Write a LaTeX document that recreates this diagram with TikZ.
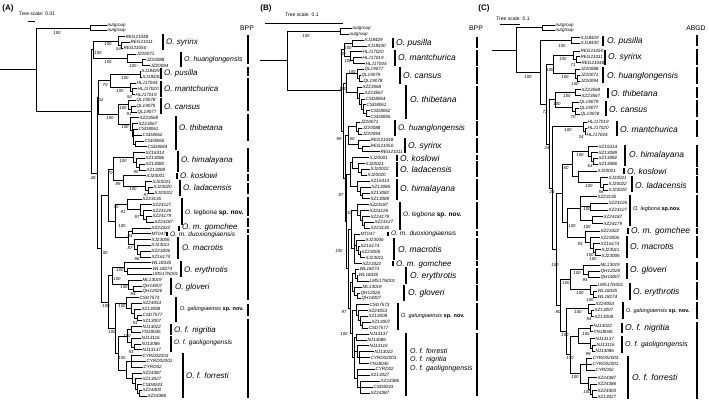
\documentclass[tikz,border=0pt]{standalone}
\usepackage{fontspec}
\setmainfont{Liberation Sans}
\newcommand\tipf{\fontsize{4.6}{5}\selectfont\itshape}
\newcommand\svf{\fontsize{4.3}{5}\selectfont\itshape}
\newcommand\spf{\fontsize{8}{9}\selectfont\itshape}
\newcommand\spbf{\fontsize{8.5}{9}\selectfont\itshape}
\newcommand\sphf{\fontsize{7}{8}\selectfont\itshape}
\newcommand\spmf{\fontsize{6.5}{7}\selectfont\itshape}
\newcommand\spsf{\fontsize{5.5}{6}\selectfont\itshape}
\newcommand\sn{{\upshape\bfseries sp. nov.}}
\newcount\svc
\newcommand\nd[4]{\draw[br] (#1,{(#3+#4)/2}) -- (#2,{(#3+#4)/2}) (#2,#3) -- (#2,#4);}
\newcommand\tp[5]{\draw[br] (#2,#4) -- (#3,#4); \node[tl] (#1) at (#3,#4) {#5};}
\newcommand\sv[3]{\global\advance\svc by 1 \node[sv] (v\the\svc) at (#1,#2) {#3};}
\newcommand\spc[8][]{\draw[spb] (#3,#4) -- (#3,#5); \node[spl,#1] (#2) at (#6,#7) {#8};}
\newcommand\seg[3]{\draw[col] (#1,#2) -- (#1,#3);}
\tikzset{
  br/.style={line width=0.8pt, line cap=rect},
  tl/.style={anchor=west, inner sep=0.4pt, font=\tipf},
  sv/.style={inner sep=0pt, font=\svf},
  spb/.style={line width=1.3pt},
  spl/.style={anchor=west, inner sep=0pt, font=\spf},
  col/.style={line width=1.3pt},
  pl/.style={inner sep=0pt, font=\fontsize{8}{9}\selectfont\bfseries},
  ts/.style={inner sep=0pt, font=\fontsize{5}{6}\selectfont},
  hd/.style={inner sep=0pt, font=\fontsize{6.8}{8}\selectfont},
  sb/.style={line width=0.9pt}
}
\begin{document}
\begin{tikzpicture}[x=1pt,y=-1pt]
\useasboundingbox (0,0) rectangle (709,402);
% ================= PANEL A =================
\node[pl] (pA) at (8,8) {(A)};
\node[ts] (tsA) at (37,14) {Tree scale: 0.01};
\draw[sb] (28,21) -- (35,21);
\node[hd] (hA) at (247,28) {BPP};
\nd{0}{36}{27.9}{111.4}
\nd{36}{90}{25}{30.8}
\tp{a1}{90}{107}{25}{outgroup}
\tp{a2}{90}{107}{30.8}{outgroup}
\sv{57}{33}{100}
\nd{36}{91}{49.65}{173.1}
\nd{91}{93}{40.95}{58.35}
\sv{98}{53.5}{100}
\nd{93}{118}{36.6}{45.3}
\sv{108}{44.5}{100}
\tp{a3}{118}{125}{36.6}{REG21048}
\nd{118}{121}{42.4}{48.2}
\sv{118.5}{49.5}{54}
\tp{a4}{121}{130}{42.4}{REG21011}
\tp{a5}{121}{123}{48.2}{REG21050}
\nd{93}{127}{54}{62.7}
\sv{108}{62}{100}
\tp{a6}{127}{136}{54}{JZ20071}
\nd{127}{142}{59.8}{65.6}
\sv{133}{66}{100}
\tp{a7}{142}{146}{59.8}{JZ20088}
\tp{a8}{142}{150}{65.6}{JZ20094}
\nd{91}{97}{97.6}{248.55}
\sv{93}{178}{38}
\nd{97}{98}{80.8}{114.35}
\sv{101}{100.5}{32}
\nd{98}{110}{74.3}{87.35}
\sv{105}{85}{70}
\nd{110}{140}{71.4}{77.2}
\sv{125}{78}{100}
\tp{a9}{140}{141}{71.4}{XJ18429}
\tp{a10}{140}{142}{77.2}{XJ18430}
\nd{110}{130}{83}{91.7}
\sv{120}{91}{100}
\tp{a11}{130}{136}{83}{HLJ17044}
\nd{130}{132}{88.8}{94.6}
\sv{129.5}{97}{92}
\tp{a12}{132}{137}{88.8}{HLJ17020}
\tp{a13}{132}{135}{94.6}{HLJ17019}
\nd{98}{118}{104.75}{123.95}
\sv{110}{118}{100}
\nd{118}{128}{100.4}{109.1}
\sv{123}{108}{100}
\tp{a14}{128}{136}{100.4}{QL19078}
\nd{128}{131}{106.2}{112}
\sv{129}{114}{91}
\tp{a15}{131}{136}{106.2}{QL19079}
\tp{a16}{131}{137}{112}{QL19077}
\nd{118}{130}{117.8}{130.1}
\sv{125}{127}{100}
\tp{a17}{130}{139}{117.8}{XZ23568}
\nd{130}{132}{123.6}{136.65}
\tp{a18}{132}{138}{123.6}{XZ23567}
\nd{132}{133}{129.4}{143.9}
\tp{a19}{133}{138}{129.4}{CSD8061}
\tp{a20}{133}{142}{135.2}{CSD8062}
\nd{133}{135}{141}{146.8}
\tp{a21}{135}{144}{141}{CSD8065}
\tp{a22}{135}{147}{146.8}{CSD8064}
\nd{97}{101}{195.2}{301.9}
\sv{104}{253}{100}
\nd{101}{108}{169.3}{221.1}
\nd{108}{113}{157.7}{180.9}
\sv{110}{173}{70}
\nd{113}{133}{152.6}{162.75}
\sv{123}{161}{100}
\tp{a23}{133}{145}{152.6}{XZ16314}
\nd{133}{136}{158.4}{167.1}
\tp{a24}{136}{145}{158.4}{XZ13086}
\nd{136}{139}{164.2}{170}
\sv{136}{172.5}{90}
\tp{a25}{139}{145}{164.2}{XZ13082}
\tp{a26}{139}{146}{170}{XZ13089}
\nd{113}{123}{175.8}{185.95}
\sv{118}{184}{89}
\tp{a27}{123}{146}{175.8}{XJ20001}
\nd{123}{145}{181.6}{190.3}
\sv{133}{189}{100}
\tp{a28}{145}{152}{181.6}{XJ20021}
\nd{145}{148}{187.4}{193.2}
\sv{146}{195.5}{97}
\tp{a29}{148}{153}{187.4}{XJ20020}
\tp{a30}{148}{154}{193.2}{XJ20022}
\nd{108}{115}{204.45}{237.8}
\sv{116}{207.5}{30}
\nd{115}{127}{199}{209.9}
\sv{123}{212}{91}
\tp{a31}{127}{142}{199}{XZ23135}
\nd{127}{140}{204.8}{214.95}
\sv{137}{217.5}{97}
\tp{a32}{140}{152}{204.8}{XZ24127}
\nd{140}{143}{210.6}{219.3}
\tp{a33}{143}{152}{210.6}{XZ24126}
\nd{143}{146}{216.4}{222.2}
\tp{a34}{146}{152}{216.4}{XZ24179}
\tp{a35}{146}{154}{222.2}{XZ24187}
\nd{115}{128}{230.9}{244.7}
\sv{122}{226}{100}
\nd{128}{132}{228}{233.8}
\sv{130}{236.5}{84}
\tp{a36}{132}{151}{228}{XZ23322}
\tp{a37}{132}{151}{233.8}{MT047}
\nd{128}{134}{239.6}{249.75}
\sv{130}{248}{87}
\tp{a38}{134}{151}{239.6}{XJ23006}
\nd{134}{137}{245.4}{254.1}
\tp{a39}{137}{151}{245.4}{XJ23011}
\nd{137}{140}{251.2}{257}
\sv{137}{259.5}{96}
\tp{a40}{140}{151}{251.2}{XZ23006}
\tp{a41}{140}{151}{257}{XZ16174}
\nd{101}{108}{275.85}{328}
\sv{106}{306}{100}
\nd{108}{112}{267.15}{284.55}
\sv{117}{279}{100}
\nd{112}{124}{262.8}{271.5}
\sv{120}{270}{100}
\tp{a42}{124}{151}{262.8}{WL18335}
\nd{124}{127}{268.6}{274.4}
\tp{a43}{127}{152}{268.6}{WL18274}
\tp{a44}{127}{152}{274.4}{LMS17N001}
\nd{112}{128}{280.2}{288.9}
\sv{124}{287.5}{100}
\tp{a45}{128}{142}{280.2}{ML13019}
\nd{128}{133}{286}{291.8}
\sv{133}{294}{94}
\tp{a46}{133}{142}{286}{QH14007}
\tp{a47}{133}{142}{291.8}{QH12026}
\nd{108}{115}{303.05}{352.95}
\sv{112}{332}{100}
\nd{115}{126}{297.6}{308.5}
\sv{122}{306}{100}
\tp{a48}{126}{139}{297.6}{CSD7573}
\nd{126}{131}{303.4}{313.55}
\tp{a49}{131}{142}{303.4}{XZ24053}
\nd{131}{134}{309.2}{317.9}
\tp{a50}{134}{141}{309.2}{XZ13008}
\nd{134}{137}{315}{320.8}
\sv{135}{323.5}{93}
\tp{a51}{137}{142}{315}{CSD7577}
\tp{a52}{137}{142}{320.8}{XZ13007}
\nd{115}{118}{336}{369.9}
\nd{118}{127}{329.5}{342.55}
\nd{127}{131}{326.6}{332.4}
\sv{127}{336}{100}
\tp{a53}{131}{142}{326.6}{NJ13022}
\tp{a54}{131}{141}{332.4}{YN18045}
\nd{127}{131}{338.2}{346.9}
\tp{a55}{131}{141}{338.2}{NJ13116}
\nd{131}{134}{344}{349.8}
\sv{131}{352.5}{93}
\tp{a56}{134}{141}{344}{NJ13086}
\tp{a57}{134}{142}{349.8}{NJ13137}
\nd{118}{126}{361.4}{378.45}
\sv{122}{358}{100}
\nd{126}{131}{355.6}{367.2}
\tp{a58}{131}{142}{355.6}{CYRD02003}
\tp{a59}{131}{146}{361.4}{CYRD02001}
\tp{a60}{131}{143}{367.2}{CYRD02}
\nd{126}{132}{373}{383.9}
\tp{a61}{132}{142}{373}{XZ24387}
\nd{132}{135}{378.8}{388.95}
\tp{a62}{135}{142}{378.8}{XZ13027}
\nd{135}{137}{384.6}{393.3}
\tp{a63}{137}{142}{384.6}{CSD8243}
\nd{137}{139}{390.4}{396.2}
\tp{a64}{139}{142}{390.4}{XZ24400}
\tp{a65}{139}{147}{396.2}{XZ24386}
% species A
\spc{sAsyr}{163}{34}{50}{166}{42}{O. syrinx}
\spc[font=\sphf]{sAhua}{181}{52}{67}{184}{60}{O. huanglongensis}
\spc{sApus}{161}{68}{79}{164}{73.5}{O. pusilla}
\spc{sAman}{161}{81}{97}{164}{89}{O. mantchurica}
\spc{sAcan}{161}{98}{114}{164}{106.5}{O. cansus}
\spc{sAthi}{176}{116}{150}{179}{128}{O. thibetana}
\spc{sAhim}{178}{150.5}{172}{181}{160}{O. himalayana}
\spc{sAkos}{177}{173}{179}{180}{176}{O. koslowi}
\spc{sAlad}{180}{180}{196}{183}{188}{O. ladacensis}
\spc[font=\spmf]{sAleg}{182}{198}{225}{185}{213}{O. legbona \sn}
\spc{sAgom}{179}{226}{231}{182}{227.5}{O. m. gomchee}
\spc[font=\spmf]{sAduo}{167}{232}{236}{170}{234.5}{O. m. duoxiongiaensis}
\spc{sAmac}{178}{237}{259}{182}{248}{O. macrotis}
\spc{sAery}{181}{261}{277}{184}{270}{O. erythrotis}
\spc{sAglo}{171}{278}{295}{175}{287}{O. gloveri}
\spc[font=\spsf]{sAgal}{176}{297}{322}{180}{309}{O. galungiaensis \sn}
\spc{sAnig}{171}{324}{335}{174}{330}{O. f. nigritia}
\spc[font=\spmf]{sAgao}{171}{336}{352}{174}{343}{O. f. gaoligongensis}
\spc{sAfor}{183}{353}{398}{186}{376}{O. f. forresti}
% BPP column A
\seg{248}{35}{64}\seg{248}{67}{76}\seg{248}{78}{111}\seg{248}{114}{141}
\seg{248}{148}{172}\seg{248}{174}{181}\seg{248}{183}{194}\seg{248}{197}{216}
\seg{248}{218}{227}\seg{248}{229}{233}\seg{248}{235}{300}\seg{248}{304}{316}
\seg{248}{319}{398}
% ================= PANEL B =================
\begin{scope}[spl/.style={anchor=west, inner sep=0pt, font=\spbf}]
\node[pl] (pB) at (266,8) {(B)};
\node[ts] (tsB) at (302,15) {Tree scale: 0.1};
\draw[sb] (265,23) -- (343,23);
\node[hd] (hB) at (476,28) {BPP};
\nd{260}{287}{31.25}{90.3}
\nd{287}{340}{28.3}{34.2}
\sv{306}{36}{100}
\tp{b1}{340}{352}{28.3}{outgroup}
\tp{b2}{340}{349}{34.2}{outgroup}
\nd{287}{341}{49.6}{131}
\nd{341}{344}{43}{56.225}
\sv{343}{54}{89}
\nd{344}{352}{40.1}{45.9}
\sv{348}{48}{100}
\tp{b3}{352}{364}{40.1}{XJ18429}
\tp{b4}{352}{367}{45.9}{XJ18430}
\nd{344}{350}{51.8}{60.65}
\sv{348}{61.5}{100}
\tp{b5}{350}{362}{51.8}{HLJ17020}
\nd{350}{353}{57.7}{63.6}
\tp{b6}{353}{362}{57.7}{HLJ17019}
\tp{b7}{353}{365}{63.6}{HLJ17044}
\nd{341}{343}{83.35}{178.7}
\nd{343}{346}{73.9}{92.8}
\sv{343}{89}{100}
\nd{346}{357}{69.5}{78.25}
\sv{352}{72}{100}
\tp{b8}{357}{364}{69.5}{QL19077}
\nd{357}{359}{75.3}{81.2}
\tp{b9}{359}{361}{75.3}{QL19079}
\tp{b10}{359}{363}{81.2}{QL19078}
\nd{346}{357}{87.1}{98.5}
\tp{b11}{357}{362}{87.1}{XZ23568}
\nd{357}{359}{93}{104.05}
\tp{b12}{359}{364}{93}{XZ23567}
\nd{359}{361}{98.9}{109.15}
\tp{b13}{361}{365}{98.9}{CSD8064}
\nd{361}{363}{104.7}{113.55}
\tp{b14}{363}{366}{104.7}{CSD8061}
\nd{363}{366}{110.6}{116.5}
\tp{b15}{366}{370}{110.6}{CSD8062}
\tp{b16}{366}{370}{116.5}{CSD8065}
\nd{343}{345}{135.6}{221.75}
\nd{345}{348}{126.8}{144.4}
\sv{339}{139}{89}
\sv{351}{139}{100}
\nd{348}{356}{122.4}{131.2}
\tp{b17}{356}{360}{122.4}{JZ20071}
\nd{356}{358}{128.3}{134.1}
\tp{b18}{358}{362}{128.3}{JZ20088}
\tp{b19}{358}{362}{134.1}{JZ20094}
\nd{348}{358}{140}{148.85}
\tp{b20}{358}{370}{140}{REG21048}
\nd{358}{362}{145.9}{151.8}
\tp{b21}{362}{370}{145.9}{REG21050}
\tp{b22}{362}{380}{151.8}{REG21011}
\nd{345}{346}{174.6}{268.9}
\nd{346}{350}{162.85}{186.35}
\sv{341}{195}{87}
\nd{350}{352}{157.7}{167.95}
\tp{b23}{352}{369}{157.7}{XJ20001}
\nd{352}{358}{163.5}{172.35}
\tp{b24}{358}{365}{163.5}{XJ20021}
\nd{358}{361}{169.4}{175.3}
\tp{b25}{361}{370}{169.4}{XJ20022}
\tp{b26}{361}{367}{175.3}{XJ20020}
\nd{350}{357}{181.2}{191.5}
\tp{b27}{357}{370}{181.2}{XZ16314}
\nd{357}{360}{187.1}{195.85}
\tp{b28}{360}{371}{187.1}{XZ13086}
\nd{360}{362}{192.9}{198.8}
\tp{b29}{362}{370}{192.9}{XZ13082}
\tp{b30}{362}{370}{198.8}{XZ13089}
\nd{346}{348}{229.5}{308.25}
\nd{348}{351}{210.2}{248.8}
\sv{339}{251}{100}
\nd{351}{357}{204.7}{215.75}
\sv{350}{213}{52}
\tp{b31}{357}{369}{204.7}{XZ24187}
\nd{357}{360}{210.6}{220.875}
\tp{b32}{360}{369}{210.6}{XZ24126}
\nd{360}{362}{216.5}{225.25}
\tp{b33}{362}{370}{216.5}{XZ24179}
\nd{362}{364}{222.3}{228.2}
\tp{b34}{364}{374}{222.3}{XZ24127}
\tp{b35}{364}{370}{228.2}{XZ23135}
\nd{351}{354}{234.1}{263.5}
\tp{b36}{354}{360}{234.1}{MT047}
\nd{354}{356}{240}{250.275}
\tp{b37}{356}{365}{240}{XJ23006}
\nd{356}{358}{245.9}{254.65}
\tp{b38}{358}{360}{245.9}{XZ16174}
\nd{358}{360}{251.7}{257.6}
\tp{b39}{360}{361}{251.7}{XZ23006}
\tp{b40}{360}{365}{257.6}{XJ23011}
\tp{b41}{354}{362}{263.5}{XZ23322}
\nd{348}{350}{282.6}{333.9}
\nd{350}{352}{273.8}{291.425}
\nd{352}{355}{269.4}{278.2}
\tp{b42}{355}{359}{269.4}{WL18274}
\nd{355}{357}{275.3}{281.1}
\tp{b43}{357}{358}{275.3}{WL18335}
\tp{b44}{357}{369}{281.1}{LMS17N001}
\nd{352}{354}{287}{295.85}
\tp{b45}{354}{362}{287}{ML13019}
\nd{354}{357}{292.9}{298.8}
\tp{b46}{357}{360}{292.9}{QH12026}
\tp{b47}{357}{361}{298.8}{QH14007}
\nd{350}{352}{310.175}{357.575}
\sv{344}{312}{97}
\sv{344}{334}{100}
\nd{352}{356}{304.7}{315.65}
\tp{b48}{356}{369}{304.7}{CSD7573}
\nd{356}{358}{310.5}{320.825}
\tp{b49}{358}{368}{310.5}{XZ24053}
\nd{358}{360}{316.4}{325.25}
\tp{b50}{360}{368}{316.4}{XZ13008}
\nd{360}{362}{322.3}{328.2}
\tp{b51}{362}{371}{322.3}{XZ13007}
\tp{b52}{362}{368}{328.2}{CSD7577}
\nd{352}{354}{337}{378.15}
\nd{354}{356}{334.1}{339.9}
\tp{b53}{356}{369}{334.1}{NJ13137}
\tp{b54}{356}{367}{339.9}{NJ13086}
\nd{354}{357}{345.8}{357.6}
\tp{b55}{357}{369}{345.8}{NJ13116}
\nd{357}{359}{351.7}{363.5}
\tp{b56}{359}{374}{351.7}{NJ13022}
\tp{b57}{359}{370}{357.6}{CYRD02003}
\tp{b58}{359}{369}{363.5}{YN18045}
\nd{354}{357}{369.3}{387}
\tp{b59}{357}{375}{369.3}{CYRD02}
\tp{b60}{357}{370}{375.2}{XZ13027}
\nd{357}{360}{381.1}{392.9}
\tp{b61}{360}{380}{381.1}{XZ24386}
\tp{b62}{360}{373}{387}{CSD8243}
\tp{b63}{360}{370}{392.9}{XZ24387}
% species B
\spc{sBpus}{393}{38}{48}{396}{43}{O. pusilla}
\spc{sBman}{395}{50}{66}{398}{57}{O. mantchurica}
\spc{sBcan}{400}{67}{84}{403}{76}{O. cansus}
\spc{sBthi}{406}{85}{119}{410}{99}{O. thibetana}
\spc[font=\spf]{sBhua}{395}{120}{136}{398}{128}{O. huanglongensis}
\spc{sBsyr}{405}{138}{153}{408}{146}{O. syrinx}
\spc{sBkos}{397}{155}{160.5}{400}{158}{O. koslowi}
\spc{sBlad}{397}{162}{177}{400}{169.5}{O. ladacensis}
\spc{sBhim}{397}{179}{200}{400}{189}{O. himalayana}
\spc[font=\spmf]{sBleg}{400}{202}{230}{403}{215}{O. legbona \sn}
\spc[font=\spmf]{sBduo}{388}{231.5}{236}{391}{234}{O. m. duoxiongiaensis}
\spc{sBmac}{394}{238}{260}{398}{249}{O. macrotis}
\spc[font=\spf]{sBgom}{393}{261}{266}{396}{264}{O. m. gomchee}
\spc{sBery}{406}{267}{284}{410}{276}{O. erythrotis}
\spc{sBglo}{404}{285}{301}{408}{293}{O. gloveri}
\spc[font=\spsf]{sBgal}{398}{303}{330}{401}{316}{O. galungiaensis \sn}
\spc[font=\sphf]{sBfor}{406}{333}{396}{410}{351}{O. f. forresti}
\node[spl,font=\sphf] (sBnig) at (410,360) {O. f. nigritia};
\node[spl,font=\sphf] (sBgao) at (410,369) {O. f. gaoligongensis};
% BPP column B
\seg{477}{37}{48}\seg{477}{50}{66}\seg{477}{67}{84}\seg{477}{86}{120}
\seg{477}{121}{136}\seg{477}{138}{153}\seg{477}{155}{160}\seg{477}{161}{177}
\seg{477}{179}{200}\seg{477}{202}{229}\seg{477}{231}{236}\seg{477}{238}{260}
\seg{477}{261}{266}\seg{477}{268}{284}\seg{477}{285}{301}\seg{477}{303}{330}
\seg{477}{333}{396}
\end{scope}
% ================= PANEL C =================
\begin{scope}[spl/.style={anchor=west, inner sep=0pt, font=\spbf}]
\node[pl] (pC) at (484,8) {(C)};
\node[ts] (tsC) at (513,19) {Tree scale: 0.1};
\draw[sb] (500,24) -- (520,24);
\node[hd] (hC) at (696,28) {ABGD};
\nd{492}{516}{27.85}{72.325}
\nd{516}{542}{25}{30.7}
\tp{c1}{542}{555}{25}{outgroup}
\tp{c2}{542}{555}{30.7}{outgroup}
\nd{516}{540}{40.5}{104.15}
\sv{528}{77}{100}
\nd{540}{571}{37.7}{43.3}
\sv{562}{46}{100}
\tp{c3}{571}{580}{37.7}{XJ18429}
\tp{c4}{571}{580}{43.3}{XJ18430}
\nd{540}{546}{64.425}{143.925}
\sv{545}{112}{72}
\nd{546}{553}{55.35}{73.5}
\sv{550}{70}{100}
\nd{553}{573}{51}{59.7}
\sv{563}{59}{100}
\tp{c5}{573}{580}{51}{REG21050}
\nd{573}{576}{56.7}{62.7}
\sv{573}{65}{71}
\tp{c6}{576}{580}{56.7}{REG21011}
\tp{c7}{576}{581}{62.7}{REG21048}
\nd{553}{575}{69}{78}
\sv{565}{77}{100}
\tp{c8}{575}{580}{69}{JZ20088}
\nd{575}{577}{75}{81}
\sv{575}{84}{100}
\tp{c9}{577}{580}{75}{JZ20071}
\tp{c10}{577}{580}{81}{JZ20094}
\nd{546}{549}{99.75}{188.1}
\sv{547}{148}{24}
\nd{549}{555}{92.5}{107}
\sv{557}{104}{100}
\nd{555}{575}{89.5}{95.5}
\sv{567}{96}{100}
\tp{c11}{575}{581}{89.5}{XZ23568}
\tp{c12}{575}{581}{95.5}{XZ23567}
\nd{555}{572}{102.5}{111.5}
\tp{c13}{572}{579}{102.5}{QL19079}
\nd{572}{575}{108.5}{114.5}
\sv{573}{117}{70}
\tp{c14}{575}{579}{108.5}{QL19077}
\tp{c15}{575}{580}{114.5}{QL19078}
\nd{549}{552}{126.625}{249.575}
\sv{552}{192}{24}
\nd{552}{583}{122}{131.25}
\sv{568}{130}{100}
\tp{c16}{583}{587}{122}{HLJ17019}
\nd{583}{585}{128}{134.5}
\sv{581}{137}{34}
\tp{c17}{585}{587}{128}{HLJ17020}
\tp{c18}{585}{586}{134.5}{HLJ17044}
\nd{552}{556}{193.45}{305.725}
\sv{555}{265}{100}
\nd{556}{562}{164.225}{222.65}
\nd{562}{572}{151.75}{176.675}
\sv{566}{168}{60}
\nd{572}{588}{146.7}{156.825}
\sv{580}{155}{100}
\tp{c19}{588}{598}{146.7}{XZ16314}
\nd{588}{591}{152.5}{161.15}
\tp{c20}{591}{598}{152.5}{XZ13089}
\nd{591}{593}{158.3}{164}
\sv{590}{166}{63}
\tp{c21}{593}{598}{158.3}{XZ13082}
\tp{c22}{593}{598}{164}{XZ13086}
\nd{572}{578}{171}{182.35}
\tp{c23}{578}{597}{171}{XJ20001}
\nd{578}{600}{177.7}{187}
\sv{589}{186}{100}
\tp{c24}{600}{608}{177.7}{XJ20021}
\nd{600}{603}{184}{190}
\sv{601}{192.5}{56}
\tp{c25}{603}{608}{184}{XJ20022}
\tp{c26}{603}{608}{190}{XJ20020}
\nd{562}{567}{208.4}{236.925}
\sv{572}{226}{100}
\nd{567}{580}{196.7}{220.1}
\tp{c27}{580}{597}{196.7}{XZ23135}
\nd{580}{590}{203.3}{210}
\sv{587}{209}{100}
\tp{c28}{590}{608}{203.3}{XZ24126}
\tp{c29}{590}{608}{210}{XZ24127}
\nd{580}{592}{216.7}{223.5}
\sv{587}{227}{100}
\tp{c30}{592}{603}{216.7}{XZ24187}
\tp{c31}{592}{603}{223.5}{XZ24179}
\nd{567}{585}{231}{242.85}
\sv{580}{244}{93}
\tp{c32}{585}{600}{231}{XZ23322}
\nd{585}{590}{237.7}{248}
\tp{c33}{590}{600}{237.7}{XZ23006}
\nd{590}{593}{243.5}{252.5}
\sv{590}{255}{100}
\tp{c34}{593}{600}{243.5}{XZ16174}
\nd{593}{595}{249.5}{255.5}
\sv{593}{259}{100}
\tp{c35}{595}{601}{249.5}{XJ23011}
\tp{c36}{595}{601}{255.5}{XJ23006}
\nd{556}{560}{279.575}{331.85}
\sv{558}{312}{80}
\nd{560}{570}{269.5}{289.65}
\sv{566}{283}{100}
\nd{570}{583}{265}{274}
\sv{577}{273}{100}
\tp{c37}{583}{600}{265}{ML13019}
\nd{583}{588}{271}{277}
\sv{585}{280}{94}
\tp{c38}{588}{600}{271}{QH12026}
\tp{c39}{588}{600}{277}{QH14007}
\nd{570}{590}{285}{294.3}
\sv{580}{293}{100}
\tp{c40}{590}{597}{285}{LMS17N001}
\nd{590}{593}{291.3}{297.3}
\sv{590}{300}{100}
\tp{c41}{593}{597}{291.3}{WL18335}
\tp{c42}{593}{597}{297.3}{WL18274}
\nd{560}{566}{308.85}{354.85}
\sv{565}{335}{100}
\nd{566}{588}{304.3}{313.4}
\sv{578}{312}{100}
\tp{c43}{588}{595}{304.3}{XZ24053}
\nd{588}{591}{310.3}{316.5}
\sv{589}{319}{94}
\tp{c44}{591}{594}{310.3}{XZ13007}
\tp{c45}{591}{594}{316.5}{XZ13008}
\nd{566}{570}{335.925}{373.775}
\sv{570}{358}{100}
\nd{570}{578}{328.6}{343.25}
\nd{578}{590}{325.5}{331.7}
\sv{586}{334}{100}
\tp{c46}{590}{593}{325.5}{NJ13022}
\tp{c47}{590}{593}{331.7}{YN18045}
\nd{578}{590}{338.5}{348}
\tp{c48}{590}{595}{338.5}{NJ13137}
\nd{590}{592}{345}{351}
\sv{588}{354}{99}
\tp{c49}{592}{596}{345}{NJ13116}
\tp{c50}{592}{595}{351}{NJ13086}
\nd{570}{580}{364.3}{383.25}
\sv{575}{377}{100}
\nd{580}{586}{358.3}{370.3}
\tp{c51}{586}{592}{358.3}{CYRD02003}
\tp{c52}{586}{592}{364.3}{CYRD02001}
\tp{c53}{586}{595}{370.3}{CYRD02}
\nd{580}{588}{377.5}{389}
\tp{c54}{588}{597}{377.5}{XZ24387}
\nd{588}{590}{384}{394}
\sv{587}{392}{100}
\tp{c55}{590}{597}{384}{XZ24386}
\nd{590}{592}{390.7}{397.3}
\tp{c56}{592}{597}{390.7}{XZ24400}
\tp{c57}{592}{597}{397.3}{XZ13027}
% species C
\spc{sCpus}{603}{36}{46}{607}{41}{O. pusilla}
\spc{sCsyr}{605}{49.5}{64.5}{608}{57}{O. syrinx}
\spc{sChua}{603}{67}{83}{607}{76.5}{O. huanglongensis}
\spc{sCthi}{608}{88}{97.5}{611}{93}{O. thibetana}
\spc{sCcan}{606}{101}{116}{609}{110}{O. cansus}
\spc{sCman}{617}{120.5}{136}{620}{129}{O. mantchurica}
\spc{sChim}{625}{145}{166}{629}{155}{O. himalayana}
\spc{sCkos}{624}{168}{174}{627}{171}{O. koslowi}
\spc{sClad}{632}{176}{192}{635}{185}{O. ladacensis}
\spc[font=\spsf]{sCleg}{630}{195}{226}{633}{209}{O. legbona {\upshape\bfseries sp.nov.}}
\spc{sCgom}{628}{228}{234}{631}{231}{O. m. gomchee}
\spc{sCmac}{627}{236}{258}{630}{246}{O. macrotis}
\spc{sCglo}{627}{263}{279}{630}{270}{O. gloveri}
\spc{sCery}{630}{283}{300}{633}{292}{O. erythrotis}
\spc[font=\spsf]{sCgal}{623}{302}{319}{626}{311}{O. galungiaensis \sn}
\spc{sCnig}{622}{323}{333}{625}{328}{O. f. nigritia}
\spc[font=\sphf]{sCgao}{622}{336}{353}{625}{345}{O. f. gaoligongensis}
\spc{sCfor}{628}{356}{399}{632}{377}{O. f. forresti}
% ABGD column
\seg{697}{35}{46}\seg{697}{49}{65}\seg{697}{67}{84}\seg{697}{87}{98}
\seg{697}{100}{117}\seg{697}{120}{137}\seg{697}{145}{167}\seg{697}{168}{175}
\seg{697}{176}{193}\seg{697}{195}{227}\seg{697}{228}{234}\seg{697}{236}{258}
\seg{697}{262}{280}\seg{697}{282}{300}\seg{697}{302}{319}\seg{697}{322}{399}
\end{scope}
\end{tikzpicture}
\end{document}
